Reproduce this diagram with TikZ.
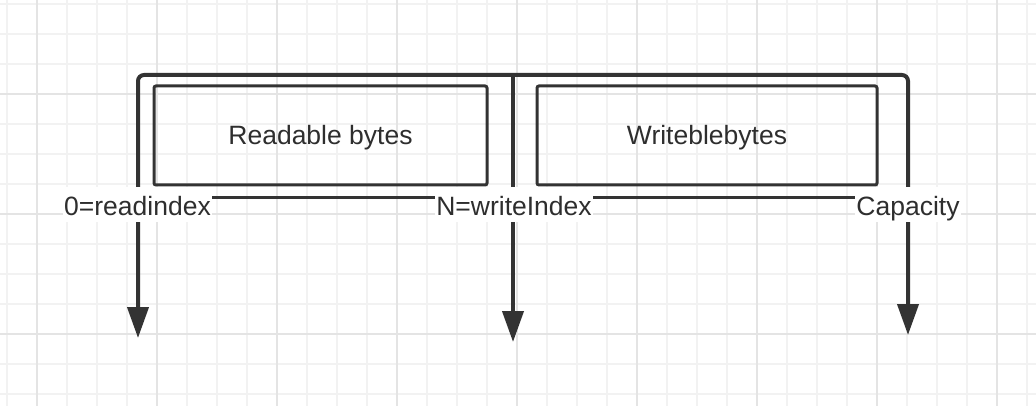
\documentclass[tikz,border=0pt]{standalone}
\usepackage{fontspec}
\setmainfont{Liberation Sans}
\usetikzlibrary{arrows.meta}
\definecolor{ink}{HTML}{333333}
\definecolor{gridminor}{HTML}{F2F2F2}
\definecolor{gridmajor}{HTML}{E4E4E4}
\tikzset{
  bigfont/.style={font=\fontsize{26.5}{30}\selectfont},
  bytebox/.style={draw=ink, line width=3pt, rounded corners=2pt, minimum height=99pt,
    inner sep=0pt, text height=19pt, text depth=0pt, bigfont, text=ink!90!black},
  idxlabel/.style={fill=white, inner xsep=1pt, inner ysep=0pt, text height=28pt,
    text depth=7pt, anchor=base, bigfont, text=ink!90!black},
  tip/.tip={Triangle[length=31pt,width=21pt]},
  outerline/.style={draw=ink, line width=4pt},
  sepline/.style={draw=ink, line width=3pt},
}
\begin{document}
\begin{tikzpicture}[x=1pt,y=-1pt]
\useasboundingbox (0,0) rectangle (1036,406);
\fill[white] (0,0) rectangle (1036,406);
% grid
\foreach \gx in {7,37,...,1027} {\draw[gridminor, line width=1.2pt] (\gx,0) -- (\gx,406);}
\foreach \gy in {4,34,...,400} {\draw[gridminor, line width=1.2pt] (0,\gy) -- (1036,\gy);}
\foreach \gx in {37,157,...,1000} {\draw[gridmajor, line width=1.4pt] (\gx,0) -- (\gx,406);}
\foreach \gy in {94,214,334} {\draw[gridmajor, line width=1.4pt] (0,\gy) -- (1036,\gy);}
% boxes
\node[bytebox, minimum width=333pt] (rb) at (320.5,135.5) {Readable bytes};
\node[bytebox, minimum width=340pt] (wb) at (707,135.5) {Writeblebytes};
% coordinates
\coordinate (tl) at (138,75);
\coordinate (tm) at (513,75);
\coordinate (tr) at (908,75);
\coordinate (a0) at (138,338);
\coordinate (a1) at (513,342);
\coordinate (a2) at (908,335);
\coordinate (h0) at (138,197.5);
\coordinate (h2) at (908,197.5);
% lines
\draw[outerline, rounded corners=6pt, {tip}-{tip}] (a0) -- (tl) -- (tr) -- (a2);
\draw[outerline, -{tip}] (tm) -- (a1);
\draw[sepline] (h0) -- (h2);
% labels
\node[idxlabel] (l0) at (137.5,215) {0=readindex};
\node[idxlabel] (lN) at (514,215) {N=writeIndex};
\node[idxlabel] (lC) at (908,215) {Capacity};
\end{tikzpicture}
\end{document}
